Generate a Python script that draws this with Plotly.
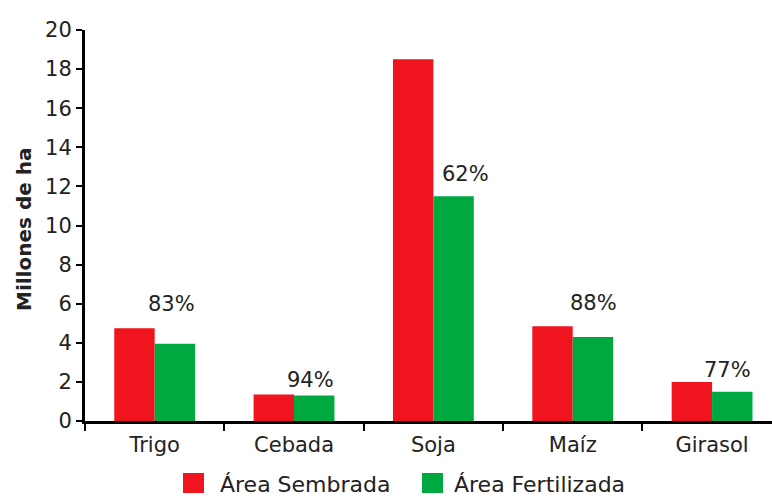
import plotly.graph_objects as go

# Superficie sembrada y fertilizada por cultivo (millones de ha)
cultivos = ["Trigo", "Cebada", "Soja", "Maíz", "Girasol"]
area_sembrada = [4.75, 1.35, 18.5, 4.85, 2.0]
area_fertilizada = [3.95, 1.3, 11.5, 4.3, 1.5]
porcentaje_fertilizado = ["83%", "94%", "62%", "88%", "77%"]
y_ticks = list(range(0, 21, 2))

ROJO = "#F0141E"
VERDE = "#00A940"
TEXTO = "#222222"
FUENTE = "DejaVu Sans"

W, H = 772, 498
M_L, M_R, M_T, M_B = 85, 0, 30, 77
PW, PH = W - M_L - M_R, H - M_T - M_B


def px_x(px):
    return (px - M_L) / PW


def px_y(py):
    return (H - M_B - py) / PH


fig = go.Figure()
fig.add_trace(go.Bar(x=cultivos, y=area_sembrada, name="Área Sembrada",
                     marker=dict(color=ROJO, line=dict(width=0)), showlegend=False))
fig.add_trace(go.Bar(x=cultivos, y=area_fertilizada, name="Área Fertilizada",
                     marker=dict(color=VERDE, line=dict(width=0)), showlegend=False))

# porcentaje fertilizado sobre cada grupo
x_shift = [17, 16, 32, 21, 15]
y_shift = [40, 16, 22, 34, 22]
for i, (c, f, p) in enumerate(zip(cultivos, area_fertilizada, porcentaje_fertilizado)):
    fig.add_annotation(x=c, y=f, text=p, showarrow=False, xref="x", yref="y",
                       xanchor="center", yanchor="middle",
                       xshift=x_shift[i], yshift=y_shift[i],
                       font=dict(family=FUENTE, size=21, color=TEXTO))

# título del eje Y
fig.add_annotation(x=px_x(24), y=px_y(230), xref="paper", yref="paper",
                   text="<b>Millones de ha</b>", textangle=-90, showarrow=False,
                   xanchor="center", yanchor="middle",
                   font=dict(family=FUENTE, size=20, color=TEXTO))

# leyenda con cuadros grandes
leyenda = [("Área Sembrada", ROJO, 183, 218), ("Área Fertilizada", VERDE, 422, 452)]
for texto, color, x0, xt in leyenda:
    fig.add_shape(type="rect", xref="paper", yref="paper",
                  x0=px_x(x0), x1=px_x(x0 + 21), y0=px_y(493), y1=px_y(473),
                  fillcolor=color, line=dict(width=0))
    fig.add_annotation(x=px_x(xt), y=px_y(484), xref="paper", yref="paper",
                       text=texto, showarrow=False, xanchor="left", yanchor="middle",
                       font=dict(family=FUENTE, size=22, color=TEXTO))

fig.update_layout(
    width=W, height=H,
    margin=dict(l=M_L, r=M_R, t=M_T, b=M_B),
    paper_bgcolor="white", plot_bgcolor="white",
    barmode="group", bargap=0.42, bargroupgap=0,
    font=dict(family=FUENTE, size=21, color=TEXTO),
    showlegend=False,
    xaxis=dict(
        type="category", range=[-0.5, 4.43],
        showline=True, linecolor="black", linewidth=3,
        ticks="outside", tickson="boundaries", ticklen=7, tickwidth=2, tickcolor="black",
        ticklabelstandoff=3,
        showgrid=False, zeroline=False,
        tickfont=dict(family=FUENTE, size=21, color=TEXTO),
    ),
    yaxis=dict(
        range=[0, 20], tickvals=y_ticks,
        showline=True, linecolor="black", linewidth=3,
        ticks="outside", ticklen=6, tickwidth=2, tickcolor="black",
        showgrid=False, zeroline=False,
        tickfont=dict(family=FUENTE, size=21, color=TEXTO),
    ),
)

fig.write_html("out.html")
